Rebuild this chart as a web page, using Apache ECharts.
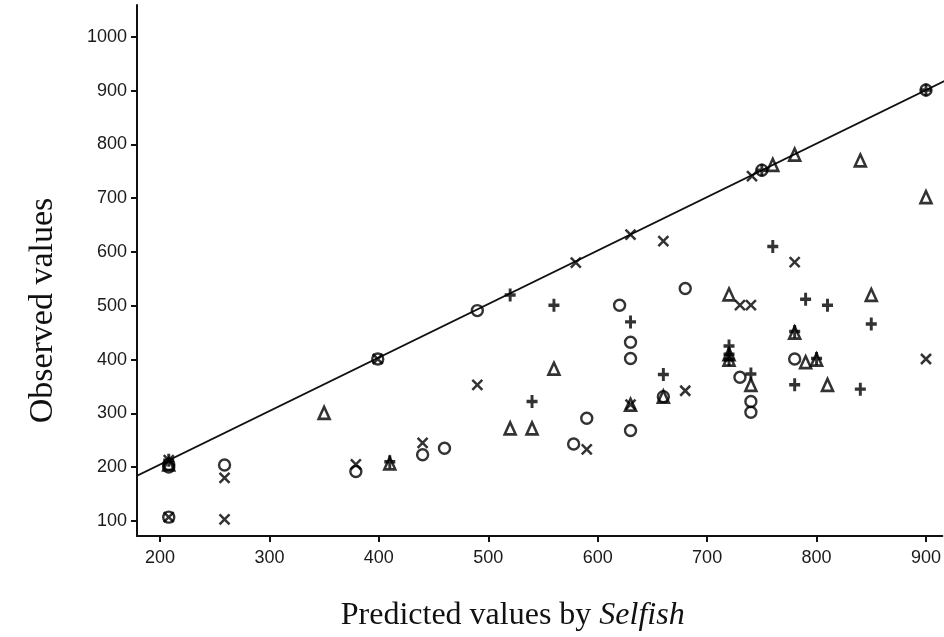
<!DOCTYPE html>
<html>
<head>
<meta charset="utf-8">
<script src="https://cdn.jsdelivr.net/npm/echarts@6/dist/echarts.min.js"></script>
<style>html,body{margin:0;padding:0;background:#fff}#c{width:944px;height:637px}</style>
</head>
<body>
<div id="c"></div>
<script>
// Tick labels
var xTicks = [200, 300, 400, 500, 600, 700, 800, 900];
var yTicks = [100, 200, 300, 400, 500, 600, 700, 800, 900, 1000];

// Reference line y = x (endpoints)
var refLineX = [175, 920];
var refLineY = [180, 921];

// Circles (o)
var circleX = [208, 208, 208, 259, 379, 399, 440, 460, 490, 578, 590, 620, 630, 630, 630, 660, 680, 730, 740, 740, 750, 780, 900];
var circleY = [205, 200, 107, 204, 192, 401, 223, 235, 491, 243, 291, 501, 432, 402, 268, 331, 532, 367, 322, 302, 752, 401, 901];

// Crosses (x)
var crossX = [208, 208, 259, 259, 379, 399, 440, 490, 580, 590, 630, 630, 660, 680, 730, 740, 741, 780, 900];
var crossY = [213, 107, 180, 103, 205, 401, 245, 353, 580, 233, 632, 316, 620, 342, 501, 501, 741, 581, 401];

// Triangles
var triX = [208, 350, 410, 520, 540, 560, 630, 660, 720, 720, 720, 740, 760, 780, 780, 790, 800, 810, 840, 850, 900];
var triY = [205, 301, 207, 272, 272, 383, 316, 331, 521, 410, 400, 353, 762, 781, 450, 395, 400, 353, 770, 520, 702];

// Pluses (+)
var plusX = [208, 410, 520, 540, 560, 630, 660, 720, 720, 720, 740, 750, 760, 780, 780, 790, 800, 810, 840, 850, 900];
var plusY = [213, 210, 520, 322, 501, 470, 372, 425, 410, 400, 373, 752, 610, 452, 353, 512, 402, 501, 345, 466, 901];

function zip(a, b) { return a.map(function (v, i) { return [v, b[i]]; }); }

var chart = echarts.init(document.getElementById('c'), null, { renderer: 'canvas' });
var ink = '#000';

chart.setOption({
  animation: false,
  backgroundColor: '#fff',
  grid: { left: 137, right: 0, top: 5, bottom: 99, containLabel: false },
  xAxis: {
    type: 'value', min: 179, max: 915,
    axisLine: { show: true, onZero: false, lineStyle: { color: '#111', width: 2 } },
    axisTick: { show: true, length: 6, customValues: xTicks, lineStyle: { color: '#111', width: 2 } },
    axisLabel: { customValues: xTicks, margin: 13, color: '#1a1a1a', fontFamily: 'Liberation Sans', fontSize: 18,
      formatter: function (v) { return String(v); } },
    splitLine: { show: false },
    name: '{a|Predicted values by }{b|Selfish}',
    nameLocation: 'middle', nameGap: 64,
    nameTextStyle: {
      padding: [0, 54, 0, 0],
      rich: {
        a: { fontFamily: 'Liberation Serif', fontSize: 32, color: '#111' },
        b: { fontFamily: 'Liberation Serif', fontStyle: 'italic', fontSize: 32, color: '#111' }
      }
    }
  },
  yAxis: {
    type: 'value', min: 72, max: 1059,
    axisLine: { show: true, onZero: false, lineStyle: { color: '#111', width: 2 } },
    axisTick: { show: true, length: 6, customValues: yTicks, lineStyle: { color: '#111', width: 2 } },
    axisLabel: { customValues: yTicks, margin: 10, color: '#1a1a1a', fontFamily: 'Liberation Sans', fontSize: 18,
      formatter: function (v) { return String(v); } },
    splitLine: { show: false },
    name: 'Observed values',
    nameLocation: 'middle', nameGap: 77,
    nameTextStyle: { fontFamily: 'Liberation Serif', fontSize: 34, color: '#111', padding: [0, 80, 0, 0] }
  },
  series: [
    {
      type: 'line', data: zip(refLineX, refLineY), symbol: 'none', clip: true,
      lineStyle: { color: '#111', width: 1.8 }, z: 1
    },
    {
      type: 'scatter', data: zip(circleX, circleY), symbol: 'circle', symbolSize: 11,
      itemStyle: { color: 'transparent', borderColor: ink, borderWidth: 2.4 }, z: 2
    },
    {
      type: 'scatter', data: zip(crossX, crossY), symbol: 'path://M0,0L10,10M10,0L0,10', symbolSize: 10,
      itemStyle: { color: 'transparent', borderColor: ink, borderWidth: 2.5 }, z: 2
    },
    {
      type: 'scatter', data: zip(triX, triY), symbol: 'triangle', symbolSize: [11, 12],
      itemStyle: { color: 'transparent', borderColor: ink, borderWidth: 2.6 }, z: 2
    },
    {
      type: 'scatter', data: zip(plusX, plusY), symbol: 'path://M5,0L5,12M0,6L10,6', symbolSize: [11, 13],
      itemStyle: { color: 'transparent', borderColor: ink, borderWidth: 3.2 }, z: 2
    }
  ]
});
</script>
</body>
</html>
